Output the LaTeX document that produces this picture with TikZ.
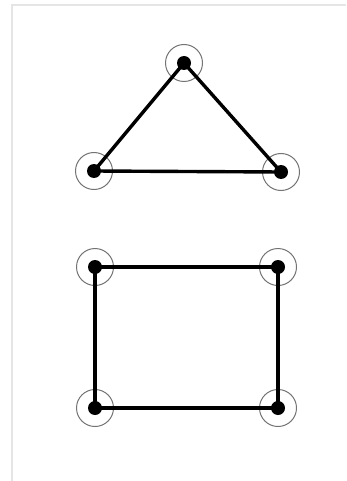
\documentclass[tikz,border=0pt]{standalone}
\begin{document}
\begin{tikzpicture}[
	x=1pt, y=-1pt,
	v/.style = {circle, draw=black!55, line width=1pt, minimum size=37, inner sep=0,
		path picture={\fill[black] (path picture bounding box.center) circle (7pt);}},
	e/.style = {line width=3.4pt},
	frame/.style = {draw=black!10, line width=1.2pt}
	]
	\useasboundingbox (0,0) rectangle (346,481);
	\draw[frame] (12,481) -- (12,5) -- (346,5);
	
	%Nodes
	\node[v]	(T)		at	(184, 63)	{};
	\node[v]	(L)		at	(94, 171)	{};
	\node[v]	(R)		at	(281, 172)	{};
	
	\node[v]	(A)		at	(95, 267)	{};
	\node[v]	(B)		at	(278, 267)	{};
	\node[v]	(C)		at	(278, 408)	{};
	\node[v]	(D)		at	(95, 408)	{};
	
	%Lines
	\draw[e]	(T.center)	--	(L.center);
	\draw[e]	(L.center)	--	(R.center);
	\draw[e]	(R.center)	--	(T.center);
	
	\draw[e]	(A.center)	--	(B.center);
	\draw[e]	(B.center)	--	(C.center);
	\draw[e]	(C.center)	--	(D.center);
	\draw[e]	(D.center)	--	(A.center);
\end{tikzpicture}
\end{document}
